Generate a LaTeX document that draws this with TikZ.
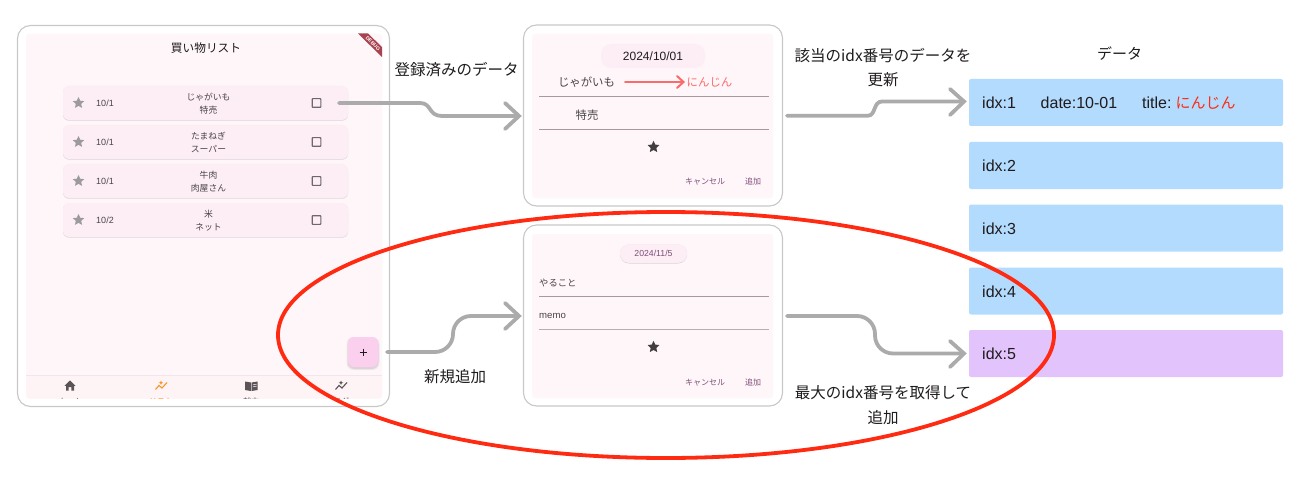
\documentclass[tikz,border=0pt]{standalone}
\usepackage{fontspec}
\setmainfont{Noto Sans CJK JP}
\newfontfamily\latinf{Liberation Sans}
\usetikzlibrary{arrows.meta,shapes.geometric,shadows}
\definecolor{panelbg}{HTML}{FEF6F9}
\definecolor{navbg}{HTML}{FEF3F5}
\definecolor{rowbg}{HTML}{FDEEF5}
\definecolor{rowsh}{HTML}{DDD3D8}
\definecolor{panelline}{HTML}{C8C8C8}
\definecolor{connc}{HTML}{ABABAB}
\definecolor{rowblue}{HTML}{B3DBFD}
\definecolor{rowpurple}{HTML}{E3C3FB}
\definecolor{txtd}{HTML}{1F1B1E}
\definecolor{txtm}{HTML}{4A4448}
\definecolor{btnc}{HTML}{7D4E77}
\definecolor{lineu}{HTML}{A8989F}
\definecolor{redc}{HTML}{FF2A12}
\definecolor{pinkred}{HTML}{FC6B6B}
\definecolor{fabc}{HTML}{FBCFEE}
\definecolor{starg}{HTML}{9C9A9B}
\definecolor{stard}{HTML}{433D40}
\definecolor{chkc}{HTML}{6F676C}
\definecolor{debugc}{HTML}{A8434F}
\definecolor{orangec}{HTML}{F8962B}
\definecolor{navg}{HTML}{5A5458}
\tikzset{
 x=1pt,y=-1pt,
 frame/.style={draw=panelline,line width=1.1pt,fill=white,rounded corners=13pt,minimum width=#1},
 conn/.style={draw=connc,line width=3.8pt,line cap=round,line join=round},
 connhead/.style={draw=connc,line width=3.8pt,line cap=round,line join=miter},
 txt/.style={text=txtd,inner sep=0pt,align=center,font=\fontsize{15.5}{24.5}\selectfont},
 small/.style={text=txtm,inner sep=0pt,align=center,font=\fontsize{8.8}{13}\selectfont},
 btn/.style={text=btnc,inner sep=0pt,anchor=base,font=\fontsize{8}{10}\selectfont},
 datarow/.style={fill=#1,rounded corners=2pt,minimum width=314pt,minimum height=47pt,inner sep=0pt,draw=none},
 idx/.style={text=txtd,inner sep=0pt,anchor=west,font=\latinf\fontsize{16}{18}\selectfont},
 listrow/.style={fill=rowbg,rounded corners=6pt,minimum width=285pt,minimum height=34pt,inner sep=0pt},
 listsh/.style={fill=rowsh,rounded corners=6pt,minimum width=285pt,minimum height=34pt,inner sep=0pt},
 chk/.style={draw=chkc,line width=1.1pt,rounded corners=.6pt,minimum size=8.6pt,inner sep=0pt},
 starshape/.style={star,star points=5,star point ratio=2.1,fill=#1,draw=none,inner sep=0pt,minimum size=12.5pt},
 navlab/.style={inner sep=0pt,anchor=base,font=\fontsize{8}{10}\selectfont},
 trend/.style={line width=1.1pt,line join=miter},
}
\begin{document}
\begin{tikzpicture}
\useasboundingbox (0,0) rectangle (1305,481);
% left frame
\node[frame=372pt,minimum height=381pt,inner sep=0pt] (main) at (203.5,216) {};
\fill[panelbg,rounded corners=3pt] (26,34) rectangle (382,398.5);
\fill[debugc] (358,33.5) -- (368,33.5) -- (382,47) -- (382,57) -- cycle;
\node[rotate=-45,text=white,inner sep=0pt,font=\latinf\bfseries\fontsize{5}{6}\selectfont] (debug) at (373,43.5) {DEBUG};
\node[txt,font=\fontsize{11.7}{16}\selectfont] (title) at (206,47.7) {買い物リスト};
% list rows
\foreach \n/\y/\d/\a/\b in {1/103/10\slash 1/じゃがいも/特売,2/142/10\slash 1/たまねぎ/スーパー,3/181/10\slash 1/牛肉/肉屋さん,4/220/10\slash 2/米/ネット}{
 \node[listsh] (rsh\n) at (205.5,\y+.7) {};
 \node[listrow] (row\n) at (205.5,\y) {};
 \node[starshape=starg,minimum size=12pt] (rstar\n) at (78.5,\y) {};
 \node[small,font=\latinf\fontsize{9}{11}\selectfont] (rdate\n) at (105,\y) {\d};
 \node[small] (rtext\n) at (208.5,\y+.5) {\a\\\b};
 \node[chk] (rchk\n) at (316.5,\y) {};
}
% nav
\fill[navbg,rounded corners=3pt] (26,375.5) rectangle (382,398.5);
\draw[rowbg!92!gray,line width=0.5pt] (26,375.5) -- (382,375.5);
% home icon
\fill[navg] (70,380.5) -- (75.5,385.8) -- (74,385.8) -- (74,390.5) -- (71.3,390.5) -- (71.3,387) -- (68.7,387) -- (68.7,390.5) -- (66,390.5) -- (66,385.8) -- (64.5,385.8) -- cycle;
% trend icon, list (orange)
\draw[orangec,trend] (155.5,389.5) -- (159,385.5) -- (162,388) -- (167,382.5);
\fill[orangec] (161,380.5) -- (161.7,382.2) -- (163.3,382.7) -- (161.7,383.3) -- (161,385) -- (160.3,383.3) -- (158.7,382.7) -- (160.3,382.2) -- cycle;
% book icon
\fill[navg] (245,381.5) -- (251,382.5) -- (251,391) -- (245,390) -- cycle;
\fill[navg] (251.7,382.5) -- (257.5,381.5) -- (257.5,390) -- (251.7,391) -- cycle;
\draw[navbg,line width=.5pt] (253,384.8) -- (256.5,384.2) (253,386.8) -- (256.5,386.2);
% trend icon, grey
\draw[navg,trend] (335.5,389.5) -- (339,385.5) -- (342,388) -- (347,382.5);
\fill[navg] (341,380.5) -- (341.7,382.2) -- (343.3,382.7) -- (341.7,383.3) -- (341,385) -- (340.3,383.3) -- (338.7,382.7) -- (340.3,382.2) -- cycle;
% nav labels, cut off by the panel's lower edge
\begin{scope}
\clip (26,394) rectangle (382,398.5);
\node[navlab,text=navg] (nl1) at (70,404.5) {ホーム};
\node[navlab,text=orangec] (nl2) at (161,404.5) {リスト};
\node[navlab,text=navg] (nl3) at (251,404.5) {献立};
\node[navlab,text=navg] (nl4) at (341,404.5) {ログ};
\end{scope}
% FAB
\fill[black,opacity=.06,rounded corners=7pt] (346.5,337) rectangle (379.5,370);
\fill[black,opacity=.08,rounded corners=7pt] (347.5,338) rectangle (378.5,369);
\node[fill=fabc,rounded corners=6pt,minimum size=30pt,inner sep=0pt,text=txtd] (fab) at (363,352) {};
\draw[txtd,line width=.9pt] (359.5,352) -- (366.5,352) (363,348.5) -- (363,355.5);
% middle top
\node[frame=259pt,minimum height=181pt,inner sep=0pt] (dlgA) at (653,115.5) {};
\fill[panelbg,rounded corners=3pt] (532,34) rectangle (773,198);
\node[fill=rowbg,rounded corners=10pt,minimum width=104pt,minimum height=24pt,inner sep=0pt,text=txtd,font=\latinf\fontsize{12}{14}\selectfont] (dateA) at (653,56) {2024/10/01};
\node[txt,font=\fontsize{11.4}{14}\selectfont,text=txtm] (a1) at (586.5,82) {じゃがいも};
\node[txt,font=\fontsize{11.4}{14}\selectfont,text=pinkred] (a2) at (709.5,82) {にんじん};
\coordinate (aArrS) at (625,82);
\draw[pinkred,line width=2pt,line cap=round,shorten >=3pt] (aArrS) -- (a2.west);
\draw[pinkred,line width=2pt,line cap=round] (677,76) -- (683.5,82) -- (677,88);
\coordinate (aL1) at (539,96.4); \coordinate (aL1e) at (769,96.4);
\draw[lineu,line width=.8pt] (aL1) -- (aL1e);
\node[txt,font=\fontsize{11.4}{14}\selectfont,text=txtm] (a3) at (587,115) {特売};
\coordinate (aL2) at (539,129.4); \coordinate (aL2e) at (769,129.4);
\draw[lineu,line width=.8pt] (aL2) -- (aL2e);
\node[starshape=stard] (astar) at (653.5,147) {};
\node[btn] (ac) at (705,185) {キャンセル};
\node[btn] (aa) at (753,185) {追加};
% middle bottom
\node[frame=259pt,minimum height=181pt,inner sep=0pt] (dlgB) at (653,315.5) {};
\fill[panelbg,rounded corners=3pt] (532,234) rectangle (773,398);
\node[fill=rowsh,rounded corners=9pt,minimum width=67pt,minimum height=19pt,inner sep=0pt] (dateBsh) at (653.5,254) {};
\node[fill=rowbg,rounded corners=9pt,minimum width=67pt,minimum height=18.5pt,inner sep=0pt,text=btnc,font=\latinf\fontsize{8.7}{10}\selectfont] (dateB) at (653.5,253.6) {2024/11/5};
\node[small,anchor=west,font=\fontsize{9.3}{11}\selectfont] (b1) at (539,283) {やること};
\coordinate (bL1) at (539,296.4); \coordinate (bL1e) at (769,296.4);
\draw[lineu,line width=.8pt] (bL1) -- (bL1e);
\node[small,anchor=west,font=\latinf\fontsize{9.6}{11}\selectfont] (b2) at (539,316) {memo};
\coordinate (bL2) at (539,329.4); \coordinate (bL2e) at (769,329.4);
\draw[lineu!80!white,line width=.8pt] (bL2) -- (bL2e);
\node[starshape=stard] (bstar) at (653.5,347) {};
\node[btn] (bc) at (705,385) {キャンセル};
\node[btn] (ba) at (753,385) {追加};
% data rows
\node[txt,font=\fontsize{15}{18}\selectfont] (dh) at (1119.5,54) {データ};
\node[datarow=rowblue] (d1) at (1126,102.5) {};
\node[datarow=rowblue] (d2) at (1126,165.5) {};
\node[datarow=rowblue] (d3) at (1126,228) {};
\node[datarow=rowblue] (d4) at (1126,291) {};
\node[datarow=rowpurple] (d5) at (1126,353.5) {};
\node[idx] (t1) at (982,103) {idx:1};
\node[idx] (t1b) at (1040.5,103) {date:10-01};
\node[idx] (t1c) at (1142,103) {title:\hspace{4pt}\textcolor{redc}{\rmfamily\fontsize{15}{18}\selectfont にんじん}};
\node[idx] (t2) at (982,166) {idx:2};
\node[idx] (t3) at (982,229) {idx:3};
\node[idx] (t4) at (982,291.5) {idx:4};
\node[idx] (t5) at (982,354) {idx:5};
% labels
\node[txt] (l1) at (456.5,70) {登録済みのデータ};
\node[txt] (l2) at (883,67.5) {該当のidx番号のデータを\\更新};
\node[txt] (l3) at (455,377) {新規追加};
\node[txt] (l4) at (883,405) {最大のidx番号を取得して\\追加};
% connectors
\coordinate (c1s) at (339,103);
\coordinate (c1e) at (519,116);
\draw[conn] (c1s) -- (420,103) .. controls (432,103) and (428,116) .. (442,116) -- (c1e);
\draw[connhead] (505,103) -- (519,116) -- (505,129);
\coordinate (c2s) at (387,352);
\coordinate (c2e) at (519,316);
\draw[conn,rounded corners=18pt] (c2s) -- (453,352) -- (453,316) -- (c2e);
\draw[connhead] (505,303) -- (519,316) -- (505,329);
\coordinate (c3s) at (787,115.7);
\coordinate (c3e) at (964,101.5);
\draw[conn] (c3s) -- (868,115.7) .. controls (876,115.7) and (873,101.5) .. (882,101.5) -- (c3e);
\draw[connhead] (950,89) -- (964,101.5) -- (950,115);
\coordinate (c4s) at (787,316);
\coordinate (c4e) at (964,353.5);
\draw[conn,rounded corners=18pt] (c4s) -- (875,316) -- (875,353.5) -- (c4e);
\draw[connhead] (950,341) -- (964,353.5) -- (950,367);
% ellipse
\node[ellipse,draw=redc,line width=3.8pt,minimum width=776pt,minimum height=246pt,inner sep=0pt] (oval) at (666,335) {};
\end{tikzpicture}
\end{document}
